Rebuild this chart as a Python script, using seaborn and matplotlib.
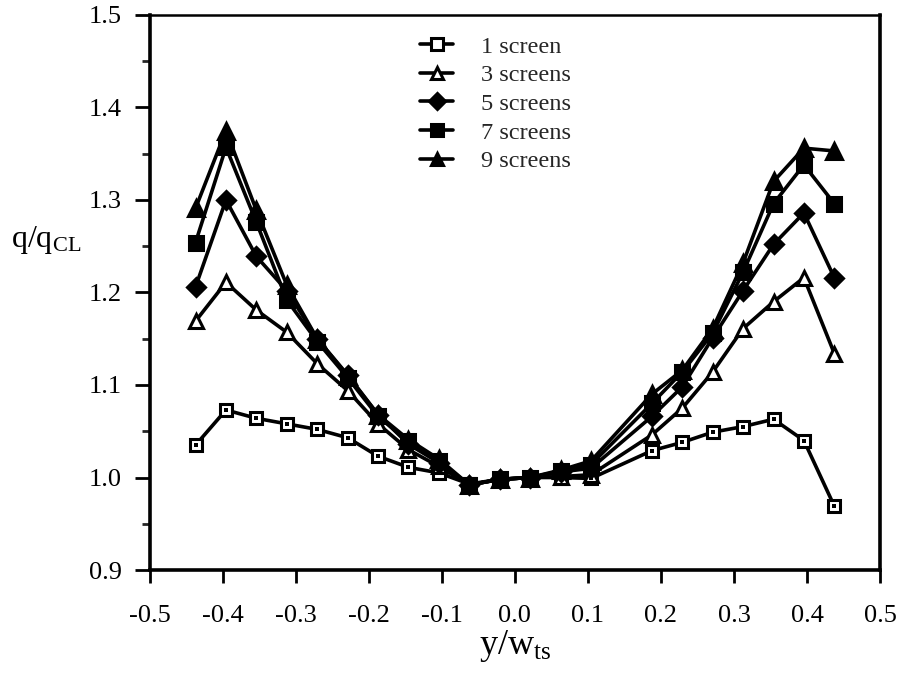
import numpy as np
import pandas as pd
import matplotlib
matplotlib.use("Agg")
import matplotlib.pyplot as plt
from matplotlib.ticker import MultipleLocator
import seaborn as sns

# Data
x_left = [-0.4375, -0.3958, -0.3542, -0.3125, -0.2708, -0.2292, -0.1875, -0.1458,
          -0.1042, -0.0625, -0.0208, 0.0208, 0.0625, 0.1042]
x_right = [0.1875, 0.2292, 0.2708, 0.3125, 0.3542, 0.3958, 0.4375]
y_pos = x_left + x_right

s1 = [1.035, 1.073, 1.064, 1.058, 1.052, 1.043, 1.023, 1.011, 1.005, 0.993, 0.998, 1.000, 1.000, 0.999,
      1.029, 1.038, 1.049, 1.055, 1.063, 1.040, 0.969]
s3 = [1.169, 1.211, 1.181, 1.157, 1.123, 1.094, 1.058, 1.030, 1.012, 0.992, 0.998, 1.000, 1.001, 1.003,
      1.046, 1.075, 1.114, 1.161, 1.190, 1.216, 1.134]
s5 = [1.206, 1.300, 1.239, 1.202, 1.150, 1.111, 1.068, 1.036, 1.016, 0.992, 0.998, 1.000, 1.006, 1.010,
      1.066, 1.098, 1.151, 1.202, 1.252, 1.286, 1.216]
s7 = [1.254, 1.357, 1.276, 1.192, 1.147, 1.108, 1.066, 1.039, 1.018, 0.992, 0.998, 1.000, 1.007, 1.014,
      1.080, 1.114, 1.156, 1.222, 1.296, 1.338, 1.296]
s9 = [1.291, 1.375, 1.289, 1.208, 1.150, 1.110, 1.068, 1.041, 1.020, 0.992, 0.998, 1.000, 1.008, 1.018,
      1.090, 1.116, 1.161, 1.232, 1.320, 1.356, 1.353]

labels = ["1 screen", "3 screens", "5 screens", "7 screens", "9 screens"]
markers = ["s", "^", "D", "s", "^"]
faces = ["white", "white", "black", "black", "black"]
msizes = [9, 10, 9, 10.5, 11.5]

sns.set_theme(style="white")
plt.rcParams["font.family"] = ["Liberation Serif", "DejaVu Serif"]
plt.rcParams["mathtext.fontset"] = "custom"
plt.rcParams["mathtext.rm"] = "Liberation Serif"
plt.rcParams["mathtext.it"] = "Liberation Serif"

fig = plt.figure(figsize=(9.03, 6.79), dpi=100)
ax = fig.add_axes([0.166, 0.1605, 0.8085, 0.8175])

series = [s1, s3, s5, s7, s9]
for lab, vals, mk, fc, ms in zip(labels, series, markers, faces, msizes):
    df = pd.DataFrame({"x": y_pos, "y": vals})
    sns.lineplot(data=df, x="x", y="y", ax=ax, color="black", linewidth=2.6,
                 marker=mk, markersize=ms, markerfacecolor=fc,
                 markeredgecolor="black", markeredgewidth=2.2, label=lab,
                 sort=False)
    if lab == "1 screen":
        sns.scatterplot(data=df, x="x", y="y", ax=ax, color="black", s=5,
                        marker="s", linewidth=0, legend=False, zorder=5)

ax.set_xlim(-0.5, 0.5)
ax.set_ylim(0.9, 1.5)
ax.xaxis.set_major_locator(MultipleLocator(0.1))
ax.yaxis.set_major_locator(MultipleLocator(0.1))
ax.yaxis.set_minor_locator(MultipleLocator(0.05))
ax.set_xticklabels([f"{v:.1f}" for v in ax.get_xticks()])
ax.set_yticklabels([f"{v:.1f}" for v in ax.get_yticks()])
ax.tick_params(axis="both", which="major", direction="out", width=2,
               labelsize=19, color="black", labelcolor="black",
               bottom=True, left=True, top=False, right=False)
ax.tick_params(axis="x", which="major", length=9, pad=16)
ax.tick_params(axis="y", which="major", length=11, pad=9)
ax.tick_params(axis="y", which="minor", direction="out", length=6, width=2, left=True)

for side in ["left", "bottom", "right"]:
    ax.spines[side].set_linewidth(2.6)
    ax.spines[side].set_color("black")
ax.spines["top"].set_linewidth(1.8)
ax.spines["top"].set_color("black")

ax.set_xlabel(r"y/w$_{\mathrm{ts}}$", fontsize=26, color="black", labelpad=1)
ax.set_ylabel(r"q/q$_{\mathrm{CL}}$", fontsize=23, color="black", rotation=0,
              va="center", ha="center")
ax.yaxis.set_label_coords(-0.142, 0.595)

leg = ax.legend(loc="upper left", bbox_to_anchor=(0.357, 0.98), frameon=False,
                fontsize=17.5, handlelength=1.35, labelspacing=0.27, handletextpad=1.15,
                borderaxespad=0)
for h in leg.legend_handles:
    h.set_markersize(8)

fig.savefig("out.png", dpi=100)
